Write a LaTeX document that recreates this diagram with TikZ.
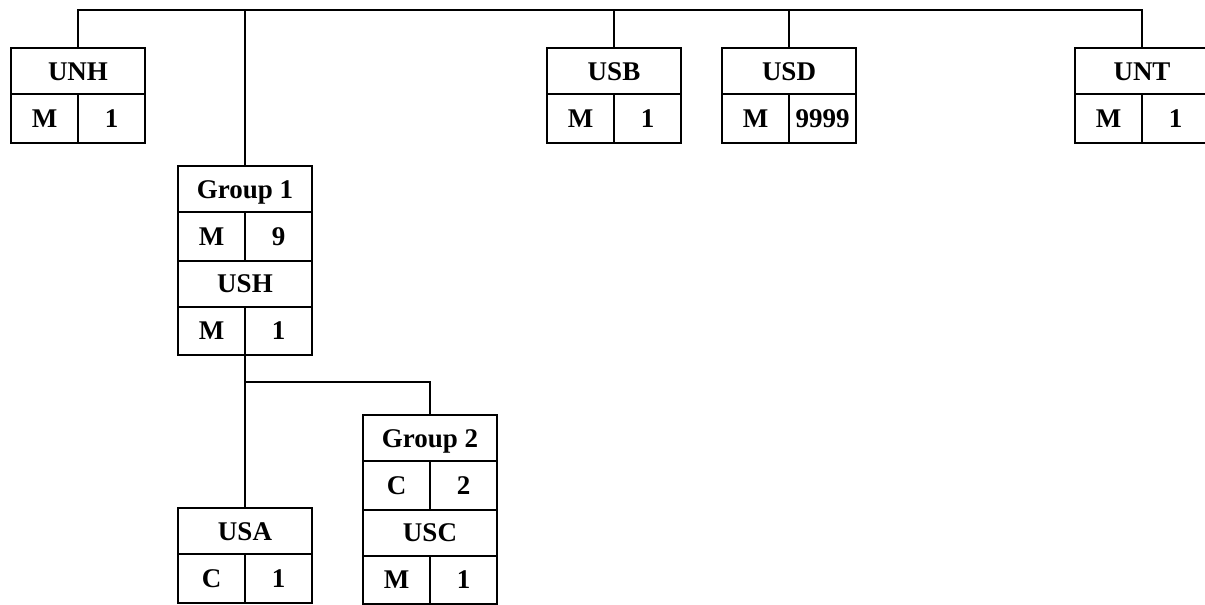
\documentclass[tikz,border=0pt]{standalone}
\usepackage{fontspec}
\setmainfont{Liberation Serif}
\begin{document}
\begin{tikzpicture}[x=1pt,y=-1pt,
  box/.style={draw, line width=2pt, inner sep=0pt, text height=18pt, text depth=0pt,
    font=\bfseries\fontsize{27}{30}\selectfont},
  title/.style={box, minimum width=134pt, minimum height=46pt},
  cell/.style={box, minimum width=67pt, minimum height=48.5pt},
  wire/.style={line width=2pt}]
\useasboundingbox (0,0) rectangle (1205,605);
% UNH
\node[title] (unh) at (78,71) {UNH};
\node[cell] (unhA) at (44.5,118.25) {M};
\node[cell] (unhB) at (111.5,118.25) {1};
% USB
\node[title] (usb) at (614,71) {USB};
\node[cell] (usbA) at (580.5,118.25) {M};
\node[cell] (usbB) at (647.5,118.25) {1};
% USD
\node[title] (usd) at (789,71) {USD};
\node[cell] (usdA) at (755.5,118.25) {M};
\node[cell] (usdB) at (822.5,118.25) {9999};
% UNT
\node[title] (unt) at (1142,71) {UNT};
\node[cell] (untA) at (1108.5,118.25) {M};
\node[cell] (untB) at (1175.5,118.25) {1};
% Group 1
\node[title] (g1) at (245,189) {Group 1};
\node[cell] (g1A) at (211.5,236.25) {M};
\node[cell] (g1B) at (278.5,236.25) {9};
\node[title] (ush) at (245,283.5) {USH};
\node[cell] (ushA) at (211.5,330.75) {M};
\node[cell] (ushB) at (278.5,330.75) {1};
% Group 2
\node[title] (g2) at (430,438) {Group 2};
\node[cell] (g2A) at (396.5,485.25) {C};
\node[cell] (g2B) at (463.5,485.25) {2};
\node[title] (usc) at (430,532.5) {USC};
\node[cell] (uscA) at (396.5,579.75) {M};
\node[cell] (uscB) at (463.5,579.75) {1};
% USA
\node[title] (usa) at (245,531) {USA};
\node[cell] (usaA) at (211.5,578.25) {C};
\node[cell] (usaB) at (278.5,578.25) {1};
% connectors
\coordinate (bus) at (600,10);
\coordinate (br) at (300,382);
\draw[wire] (unh.north) |- (bus) -| (unt.north);
\draw[wire] (g1.north) -- (g1.north |- bus);
\draw[wire] (usb.north) -- (usb.north |- bus);
\draw[wire] (usd.north) -- (usd.north |- bus);
\draw[wire] (usa.north |- ushA.south) -- (usa.north);
\draw[wire] (usa.north |- br) -| (g2.north);
\end{tikzpicture}
\end{document}
